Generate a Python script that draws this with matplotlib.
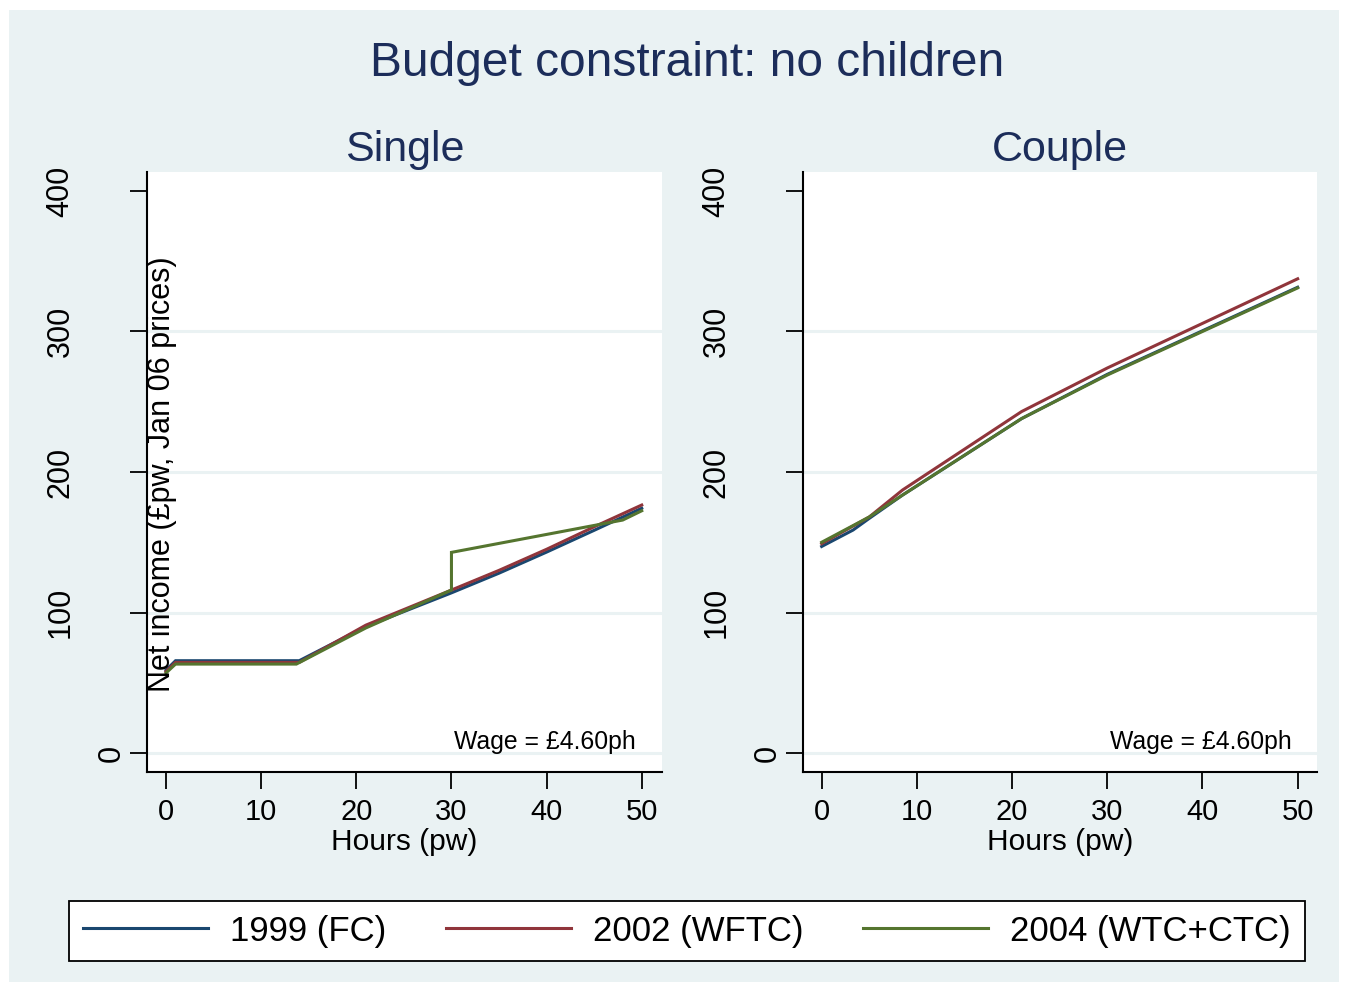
import numpy as np
import matplotlib.pyplot as plt

plt.rcParams['font.family'] = ['Liberation Sans', 'DejaVu Sans']

# data (hours per week -> net income, £pw)
single_h_1999 = [0, 1, 14, 21, 30, 35, 40, 45, 50]
single_y_1999 = [59, 65.7, 65.7, 90, 114, 128, 143, 158.5, 174.2]
single_h_2002 = [0, 1, 14, 21, 30, 35, 40, 45, 50]
single_y_2002 = [58, 64.5, 64.5, 91, 116, 130, 145, 161, 176.5]
single_h_2004 = [0, 1, 13.7, 21, 30, 30, 48, 50]
single_y_2004 = [57, 63.3, 63.3, 89, 116, 142.8, 165.8, 172.4]

couple_h_1999 = [0, 3.3, 5, 8.5, 21, 30, 50]
couple_y_1999 = [147, 158.7, 167, 183.6, 238, 269.5, 331.5]
couple_h_2002 = [0, 5, 8.5, 21, 30, 50]
couple_y_2002 = [149, 168, 187.2, 243, 274, 337.5]
couple_h_2004 = [0, 5, 8.5, 21, 30, 50]
couple_y_2004 = [150, 168, 183.6, 238, 269, 331]

series_labels = ['1999 (FC)', '2002 (WFTC)', '2004 (WTC+CTC)']
colors = ['#1a476f', '#90353b', '#55752f']
panel_titles = ['Single', 'Couple']
x_ticks = [0, 10, 20, 30, 40, 50]
y_ticks = [0, 100, 200, 300, 400]

bg = '#eaf2f3'
navy = '#1c2d5a'

fig = plt.figure(figsize=(13.48, 9.91), dpi=100)
fig.patch.set_facecolor('white')
fig.patches.append(plt.Rectangle((9 / 1348, 1 - 982 / 991), 1330 / 1348, 972 / 991,
                                 transform=fig.transFigure, facecolor=bg,
                                 edgecolor='none', zorder=-5))

ax1 = fig.add_axes([147 / 1348, 1 - 772 / 991, 515 / 1348, 600 / 991])
ax2 = fig.add_axes([803 / 1348, 1 - 772 / 991, 514 / 1348, 600 / 991])

data = [
    [(single_h_1999, single_y_1999), (single_h_2002, single_y_2002), (single_h_2004, single_y_2004)],
    [(couple_h_1999, couple_y_1999), (couple_h_2002, couple_y_2002), (couple_h_2004, couple_y_2004)],
]

for ax, title, lines, xr in zip([ax1, ax2], panel_titles, data, [(-2.0, 52.13), (-1.96, 52.03)]):
    ax.set_facecolor('white')
    for (h, y), c, lab in zip(lines, colors, series_labels):
        ax.plot(h, y, color=c, lw=2.2, label=lab, solid_joinstyle='miter', zorder=3)
    ax.set_xlim(*xr)
    ax.set_ylim(-13.5, 413.5)
    ax.set_xticks(x_ticks)
    ax.set_yticks(y_ticks)
    ax.set_yticklabels([])
    # vertical labels sit further out the longer they are, like the Stata original
    for v in y_ticks:
        off = (35.5 + 25.5 * (len(str(v)) - 1)) * 0.72
        ax.annotate(str(v), xy=(0, v), xycoords=('axes fraction', 'data'),
                    xytext=(-off, 0), textcoords='offset points', rotation=90,
                    ha='center', va='center', fontsize=22)
    ax.tick_params(axis='x', labelsize=21, length=12, width=1.3, pad=7)
    ax.tick_params(axis='y', length=12, width=1.3)
    ax.grid(axis='y', color=bg, lw=2.2, zorder=1)
    ax.get_ygridlines()[-1].set_visible(False)
    for s in ['top', 'right']:
        ax.spines[s].set_visible(False)
    for s in ['left', 'bottom']:
        ax.spines[s].set_linewidth(1.5)
    ax.set_xlabel('Hours (pw)', fontsize=21.5, labelpad=1)
    ax.set_title(title, fontsize=31, color=navy, pad=8)
    ax.text(0.95, 0.05, 'Wage = £4.60ph', transform=ax.transAxes, fontsize=17.8,
            ha='right', va='center')

fig.text(162 / 1348, 1 - 474 / 991, 'Net income (£pw, Jan 06 prices)', rotation=90,
         ha='center', va='center', fontsize=22)

fig.text(687 / 1348, 1 - 63 / 991, 'Budget constraint: no children', ha='center',
         va='center', fontsize=34.5, color=navy)

handles, labels = ax1.get_legend_handles_labels()
leg = fig.legend(handles, labels, loc='center', ncol=3, bbox_to_anchor=(687 / 1348, 1 - 931 / 991),
                 fontsize=25, frameon=True, fancybox=False, framealpha=1, facecolor='white',
                 handlelength=3.6, columnspacing=1.7, handletextpad=0.65, borderpad=0.4)
leg.get_frame().set_edgecolor('black')
leg.get_frame().set_linewidth(1.3)

fig.savefig('out.png', dpi=100, facecolor=fig.get_facecolor())
